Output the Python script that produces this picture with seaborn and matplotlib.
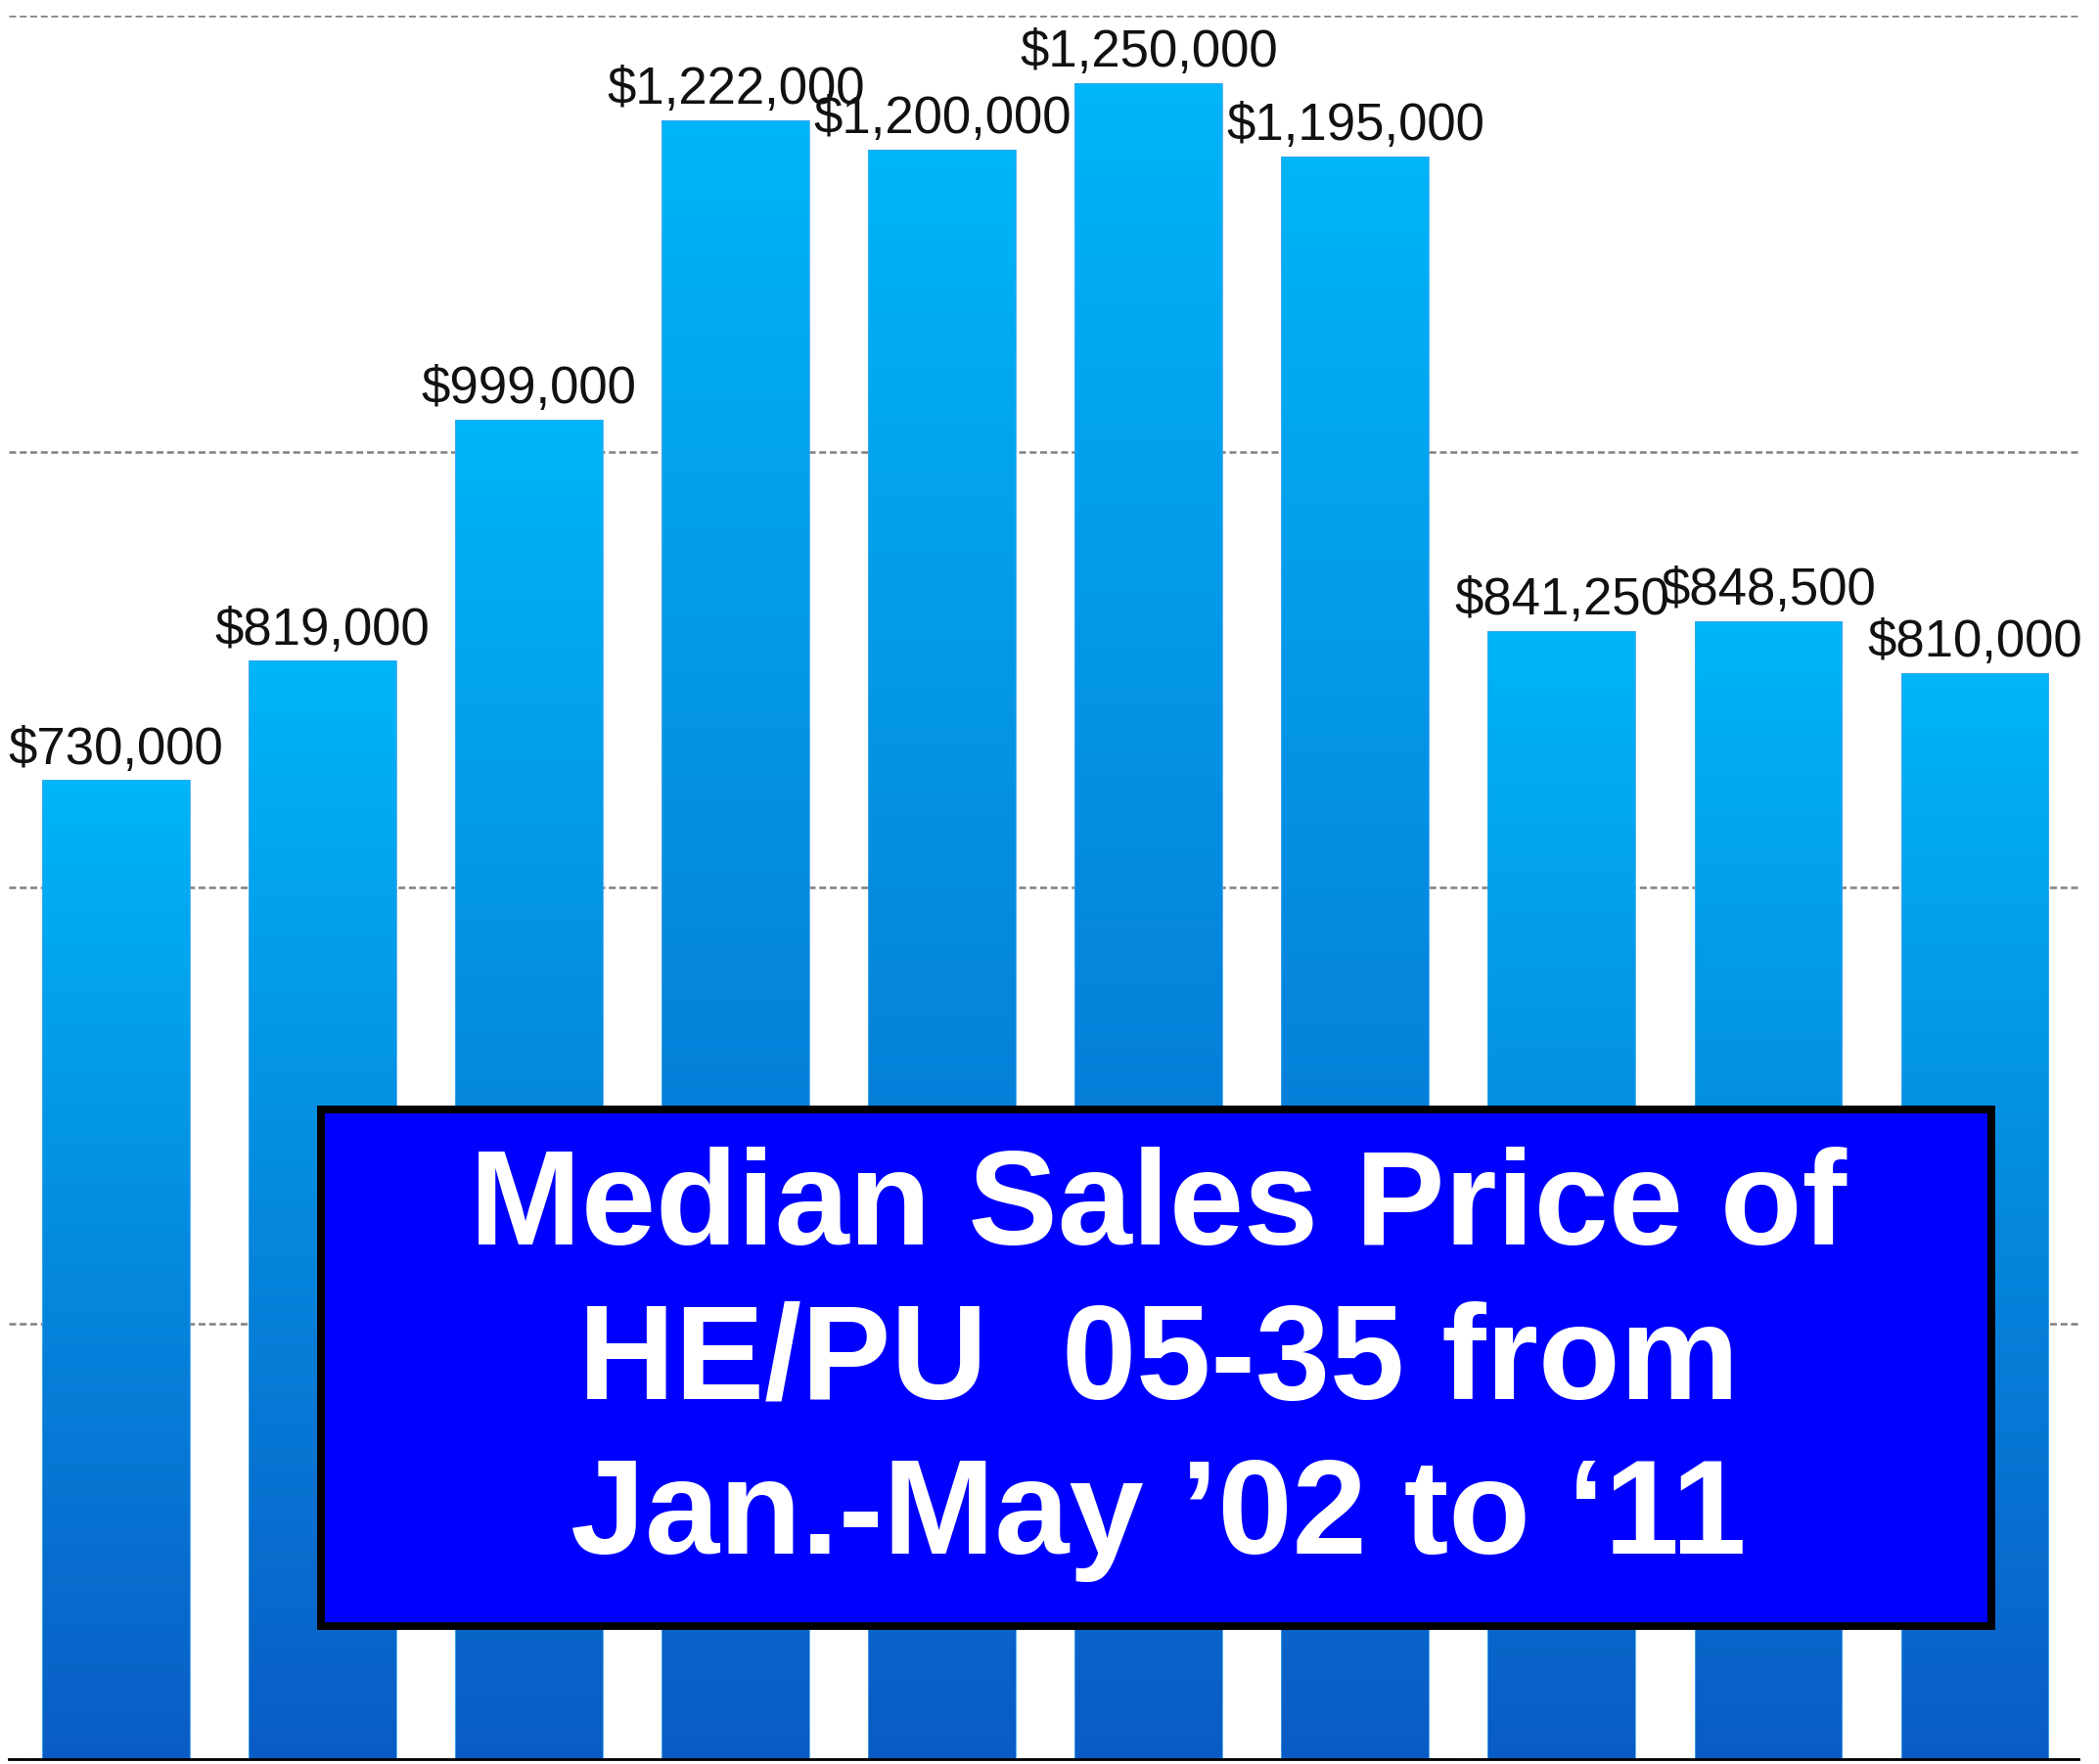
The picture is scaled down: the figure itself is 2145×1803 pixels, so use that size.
import numpy as np
import pandas as pd
import matplotlib
matplotlib.use("Agg")
import matplotlib.pyplot as plt
import seaborn as sns
from matplotlib.colors import LinearSegmentedColormap
from matplotlib.patches import Rectangle

# ── data ──────────────────────────────────────────────────────────────────
years  = ["2002", "2003", "2004", "2005", "2006",
          "2007", "2008", "2009", "2010", "2011"]
prices = [730000, 819000, 999000, 1222000, 1200000,
          1250000, 1195000, 841250, 848500, 810000]
labels = ["$730,000", "$819,000", "$999,000", "$1,222,000", "$1,200,000",
          "$1,250,000", "$1,195,000", "$841,250", "$848,500", "$810,000"]
grid_ticks = [0, 325000, 650000, 975000, 1300000]
title_lines = ["Median Sales Price of", "HE/PU  05-35 from", "Jan.-May \u201902 to \u201811"]

df = pd.DataFrame({"year": years, "price": prices})

W, H, DPI = 2145, 1803, 100
sns.set_theme(style="white")
plt.rcParams["font.family"] = ["Liberation Sans", "DejaVu Sans"]

fig = plt.figure(figsize=(W / DPI, H / DPI), dpi=DPI)
ax = fig.add_axes([9 / W, 5 / H, 2115 / W, 1782 / H])

sns.barplot(data=df, x="year", y="price", color="#00b5f9", width=0.715,
            ax=ax, zorder=2)

XLIM = ((9 - 118.5) / 211.06, (2124 - 118.5) / 211.06)
ax.set_xlim(*XLIM)
ax.set_ylim(0, grid_ticks[-1])

# ── per-bar vertical gradient ──────────────────────────────────────────────
cmap = LinearSegmentedColormap.from_list("bar", ["#0a5cc4", "#00b5f9"])
grad = np.linspace(0, 1, 256).reshape(-1, 1)
for p in ax.patches:
    x0, w, h = p.get_x(), p.get_width(), p.get_height()
    im = ax.imshow(grad, cmap=cmap, origin="lower", aspect="auto",
                   extent=[x0, x0 + w, 0, h], zorder=2)
    im.set_clip_path(p)
    p.set_facecolor("none")
    p.set_edgecolor("#3fa6f0")
    p.set_linewidth(0.6)
    p.set_zorder(3)

ax.set_xlim(*XLIM)
ax.set_ylim(0, grid_ticks[-1])

# ── value labels ──────────────────────────────────────────────────────────
for p, lab in zip(ax.patches, labels):
    ax.annotate(lab, (p.get_x() + p.get_width() / 2, p.get_height()),
                xytext=(0, 12), textcoords="offset points",
                ha="center", va="baseline", fontsize=38, color="#111111",
                zorder=6, annotation_clip=False)

# ── axes styling ──────────────────────────────────────────────────────────
ax.set_yticks(grid_ticks)
ax.yaxis.grid(True, linestyle=(0, (2.8, 1.5)), color="#808080", linewidth=1.8)
ax.xaxis.grid(False)
ax.set_axisbelow(True)
ax.tick_params(left=False, bottom=False, labelleft=False, labelbottom=False)
ax.set_xlabel("")
ax.set_ylabel("")
for s in ("left", "right", "top"):
    ax.spines[s].set_visible(False)
ax.spines["bottom"].set_color("black")
ax.spines["bottom"].set_linewidth(2.0)
ax.spines["bottom"].set_zorder(5)

# ── title box ─────────────────────────────────────────────────────────────
box = Rectangle((328 / W, (H - 1662) / H), 1707 / W, 528 / H,
                transform=fig.transFigure, facecolor="#0000ff",
                edgecolor="black", linewidth=5.7, zorder=10)
fig.patches.append(box)
for i, line in enumerate(title_lines):
    fig.text(1184 / W, (H - (1272 + 158 * i)) / H, line,
             ha="center", va="baseline", fontsize=98.6, fontweight="bold",
             color="white", zorder=11)

fig.savefig("out.png", dpi=DPI)
